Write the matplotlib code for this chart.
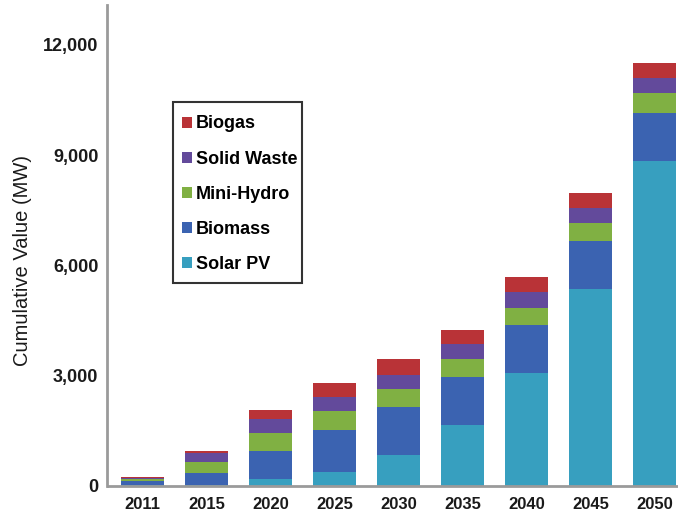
import matplotlib
matplotlib.use("Agg")
import matplotlib.pyplot as plt
from matplotlib.patches import Rectangle
import numpy as np

plt.rcParams['font.family'] = ['Liberation Sans', 'DejaVu Sans']

years = ['2011', '2015', '2020', '2025', '2030', '2035', '2040', '2045', '2050']
solar_pv = [20, 20, 180, 390, 840, 1650, 3060, 5350, 8840]
biomass = [120, 340, 770, 1140, 1310, 1310, 1310, 1310, 1310]
mini_hydro = [50, 290, 490, 500, 490, 490, 480, 490, 525]
solid_waste = [30, 240, 370, 380, 390, 425, 415, 415, 425]
biogas = [30, 75, 265, 380, 435, 380, 425, 390, 390]

series = [
    ('Solar PV', solar_pv, '#379fbf'),
    ('Biomass', biomass, '#3b63b1'),
    ('Mini-Hydro', mini_hydro, '#80b043'),
    ('Solid Waste', solid_waste, '#634a9b'),
    ('Biogas', biogas, '#b93337'),
]

W, H = 678, 515
fig = plt.figure(figsize=(W / 100, H / 100), dpi=100)
ax = fig.add_axes([107.5 / W, 1 - 486 / H, 1 - 107.5 / W, (486 - 5) / H])

x = np.arange(len(years))
bottom = np.zeros(len(years))
handles = {}
for name, vals, col in series:
    b = ax.bar(x, vals, width=0.67, bottom=bottom, color=col, label=name, linewidth=0)
    handles[name] = b
    bottom += np.array(vals)

ax.set_xlim(-0.546, 8.36)
ax.set_ylim(0, 13080)
ax.set_yticks([0, 3000, 6000, 9000, 12000])
ax.set_yticklabels(['0', '3,000', '6,000', '9,000', '12,000'])
ax.set_xticks(x)
ax.set_xticklabels(years)
for lab in ax.get_xticklabels():
    lab.set_fontweight('bold')
    lab.set_fontsize(12)
    lab.set_color('#1a1a1a')
for lab in ax.get_yticklabels():
    lab.set_fontweight('bold')
    lab.set_fontsize(13)
    lab.set_color('#1a1a1a')
ax.tick_params(length=0)
ax.tick_params(axis='y', pad=6.5)
ax.tick_params(axis='x', pad=8)
for s in ['top', 'right']:
    ax.spines[s].set_visible(False)
for s in ['left', 'bottom']:
    ax.spines[s].set_color('#9a9a9a')
    ax.spines[s].set_linewidth(2)

ax.set_ylabel('Cumulative Value (MW)', fontsize=14.5, color='#1a1a1a')
ax.yaxis.set_label_coords((32 - 107.5) / (W - 107.5), (486 - 261) / 481)

# legend frame
fig.add_artist(Rectangle((173.3 / W, 1 - 282.7 / H), (302.3 - 173.3) / W, (282.7 - 101.7) / H,
                         transform=fig.transFigure, facecolor='white',
                         edgecolor='#333333', linewidth=1.5, zorder=5))

order = ['Biogas', 'Solid Waste', 'Mini-Hydro', 'Biomass', 'Solar PV']
leg = fig.legend([handles[n] for n in order], order,
                 loc='upper left', bbox_to_anchor=(181.7 / W, 1 - 115.5 / H),
                 bbox_transform=fig.transFigure, borderaxespad=0, borderpad=0,
                 prop={'weight': 'bold', 'size': 13},
                 handlelength=0.56, handleheight=0.56, handletextpad=0.22,
                 labelspacing=1.0, frameon=False)
leg.set_zorder(6)

fig.savefig('out.png', dpi=100)
